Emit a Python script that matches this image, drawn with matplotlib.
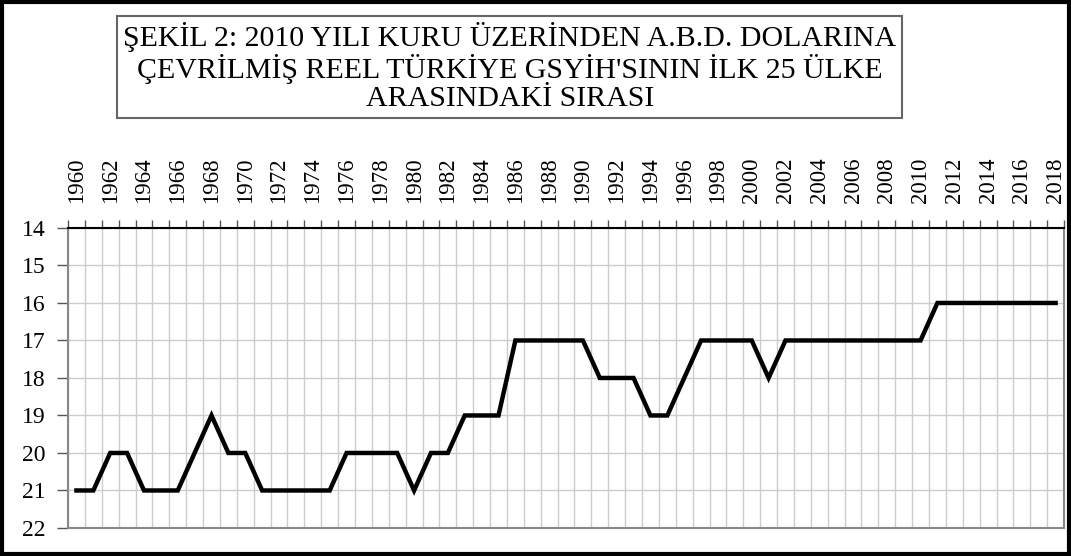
import matplotlib
matplotlib.use("Agg")
import matplotlib.pyplot as plt
from matplotlib.patches import Rectangle

# Turkey's rank among the top 25 economies (real GDP, 2010 USD)
years = list(range(1960, 2019))
ranks = [21, 21, 20, 20, 21, 21, 21, 20, 19, 20,
         20, 21, 21, 21, 21, 21, 20, 20, 20, 20,
         21, 20, 20, 19, 19, 19, 17, 17, 17, 17,
         17, 18, 18, 18, 19, 19, 18, 17, 17, 17,
         17, 18, 17, 17, 17, 17, 17, 17, 17, 17,
         17, 16, 16, 16, 16, 16, 16, 16, 16]
y_ticks = list(range(14, 23))
title = ("ŞEKİL 2: 2010 YILI KURU ÜZERİNDEN A.B.D. DOLARINA\n"
         "ÇEVRİLMİŞ REEL TÜRKİYE GSYİH'SININ İLK 25 ÜLKE\n"
         "ARASINDAKİ SIRASI")

plt.rcParams['font.family'] = ['Liberation Serif', 'DejaVu Serif']

fig = plt.figure(figsize=(10.71, 5.56), dpi=100)
ax = fig.add_axes([0.0635, 0.0504, 0.93, 0.5396])

x = list(range(len(years)))
ax.plot(x, ranks, color='black', linewidth=3.2, solid_joinstyle='miter', zorder=3)

ax.set_xlim(-0.5, len(years) - 0.5)
ax.set_ylim(22, 14)
ax.set_yticks(y_ticks)
ax.tick_params(axis='y', labelsize=17, length=8, width=1, color='#555555', pad=8)

# year labels on top, gridlines on category boundaries
ax.xaxis.tick_top()
ax.set_xticks(x[::2])
ax.set_xticklabels([str(y) for y in years[::2]], rotation=90, fontsize=16.5)
ax.set_xticks([i - 0.5 for i in range(len(years) + 1)], minor=True)
ax.tick_params(axis='x', which='major', length=0, pad=18)
ax.tick_params(axis='x', which='minor', length=6, width=1, color='#555555', top=True, bottom=False)
ax.grid(axis='x', which='minor', color='#cccccc', linewidth=1)
ax.grid(axis='y', which='major', color='#cccccc', linewidth=1)
ax.set_axisbelow(True)

for side in ['left', 'bottom', 'right']:
    ax.spines[side].set_color('#888888')
    ax.spines[side].set_linewidth(1.5)
ax.spines['top'].set_color('black')
ax.spines['top'].set_linewidth(1.5)

fig.text(0.476, 0.879, title, ha='center', va='center', fontsize=21.5,
         linespacing=1.1,
         bbox=dict(boxstyle='square,pad=0.2', facecolor='white', edgecolor='#666666', linewidth=1.5))

# outer frame
fig.patches.append(Rectangle((0.002, 0.003), 0.996, 0.994, transform=fig.transFigure,
                             fill=False, edgecolor='black', linewidth=3))

fig.savefig('out.png', dpi=100)
